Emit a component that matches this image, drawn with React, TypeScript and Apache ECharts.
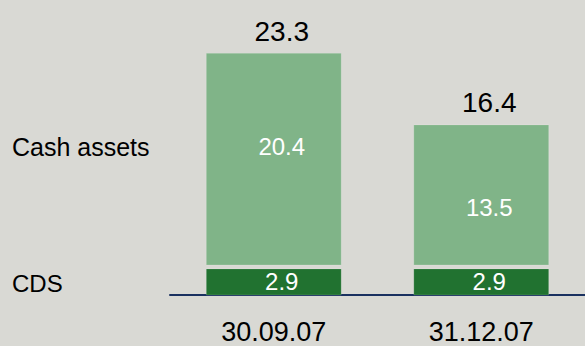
import React, { useEffect, useRef } from "react";
import * as echarts from "echarts";

const categories = ["30.09.07", "31.12.07"];
const cdsValues = [2.9, 2.9];
const cashValues = [20.4, 13.5];
const totalValues = [23.3, 16.4];
const segmentNames = ["Cash assets", "CDS"];

const BG = "#d9d9d4";
const LIGHT = "#80b488";
const DARK = "#217230";
const FONT = "Liberation Sans, Arial, sans-serif";

export default function App() {
  const ref = useRef<HTMLDivElement>(null);
  useEffect(() => {
    if (!ref.current) return;
    const chart = echarts.init(ref.current, null, { renderer: "svg" });
    const innerDy = [-13, 13];
    const data = categories.map((c, i) => [i, cdsValues[i], cashValues[i], totalValues[i]]);
    chart.setOption({
      animation: false,
      backgroundColor: BG,
      grid: { left: 170, top: 35.7, height: 259.3, width: 420 },
      xAxis: {
        type: "category",
        data: categories,
        offset: 2,
        axisLine: { lineStyle: { color: "#1a3160", width: 2 } },
        axisTick: { show: false },
        axisLabel: { color: "#000", fontSize: 27, fontFamily: FONT, margin: 21 },
      },
      yAxis: { type: "value", min: 0, max: 25, show: false },
      graphic: [
        { type: "text", x: 12, y: 147, style: { text: segmentNames[0], fill: "#000", fontSize: 25, fontFamily: FONT, verticalAlign: "middle" } },
        { type: "text", x: 12, y: 283, style: { text: segmentNames[1], fill: "#000", fontSize: 24, fontFamily: FONT, verticalAlign: "middle" } },
      ],
      series: [
        {
          type: "custom",
          data,
          renderItem: (params: any, api: any) => {
            const i = params.dataIndex;
            const cds = api.value(1);
            const cash = api.value(2);
            const total = api.value(3);
            const base = api.coord([i, 0]);
            const mid = api.coord([i, cds]);
            const top = api.coord([i, cds + cash]);
            const w = api.size([1, 0])[0] * 0.65;
            const x0 = base[0] - w / 2;
            const gap = 4;
            const lx = base[0] + 8;
            return {
              type: "group",
              children: [
                {
                  type: "rect",
                  shape: { x: x0, y: mid[1] + gap, width: w, height: base[1] - mid[1] - gap },
                  style: { fill: DARK, stroke: "rgba(255,255,255,0.15)", lineWidth: 1 },
                },
                {
                  type: "rect",
                  shape: { x: x0, y: top[1], width: w, height: mid[1] - top[1] },
                  style: { fill: LIGHT, stroke: "rgba(255,255,255,0.15)", lineWidth: 1 },
                },
                {
                  type: "text",
                  x: lx,
                  y: (base[1] + mid[1] + gap) / 2,
                  style: { text: String(cds), fill: "#fff", fontSize: 24, fontFamily: FONT, align: "center", verticalAlign: "middle" },
                },
                {
                  type: "text",
                  x: lx,
                  y: (mid[1] + top[1]) / 2 + innerDy[i],
                  style: { text: String(cash), fill: "#fff", fontSize: 24, fontFamily: FONT, align: "center", verticalAlign: "middle" },
                },
                {
                  type: "text",
                  x: lx,
                  y: top[1] - 8,
                  style: { text: String(total), fill: "#000", fontSize: 28, fontFamily: FONT, align: "center", verticalAlign: "bottom" },
                },
              ],
            };
          },
        },
      ],
    });
    return () => chart.dispose();
  }, []);
  return <div ref={ref} style={{ width: 585, height: 346, position: "fixed", left: 0, top: 0 }} />;
}
